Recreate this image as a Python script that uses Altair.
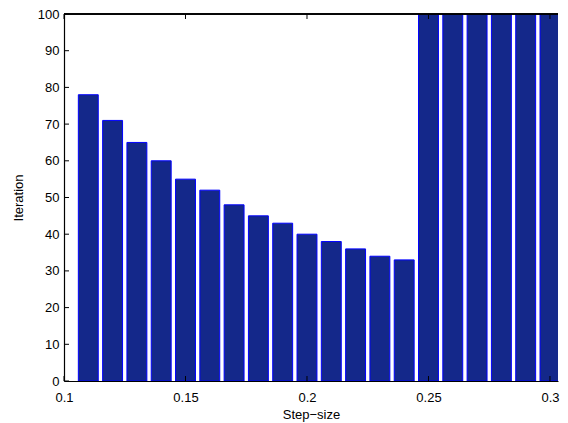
import altair as alt
import pandas as pd

steps = [0.11, 0.12, 0.13, 0.14, 0.15, 0.16, 0.17, 0.18, 0.19, 0.20,
         0.21, 0.22, 0.23, 0.24, 0.25, 0.26, 0.27, 0.28, 0.29, 0.30]
iterations = [78, 71, 65, 60, 55, 52, 48, 45, 43, 40,
              38, 36, 34, 33, 100, 100, 100, 100, 100, 100]
x_ticks = [0.1, 0.15, 0.2, 0.25, 0.3]
y_ticks = [0, 10, 20, 30, 40, 50, 60, 70, 80, 90, 100]

W = 494
H = 367
FONT = "Liberation Sans"

df = pd.DataFrame({"step": steps, "iter": iterations})
xdf = pd.DataFrame({"x": x_ticks})
ydf = pd.DataFrame({"y": y_ticks})

xscale = alt.Scale(domain=[0.1, 0.3033], nice=False, zero=False)
yscale = alt.Scale(domain=[0, 100], nice=False)

xaxis = alt.Axis(values=x_ticks, format="~g", title="Step\u2212size",
                 labelFlush=False, labelPadding=10, titlePadding=4)
yaxis = alt.Axis(values=y_ticks, format="d", title="Iteration",
                 labelPadding=5, titlePadding=12)

bars = alt.Chart(df).transform_calculate(
    x0="datum.step - 0.0041", x1="datum.step + 0.0041", base="0"
).mark_bar(fill="#14288a", stroke="#0000ff", strokeWidth=1, clip=True).encode(
    x=alt.X("x0:Q", scale=xscale, axis=xaxis),
    x2="x1:Q",
    y=alt.Y("iter:Q", scale=yscale, axis=yaxis),
    y2="base:Q",
)

ytick_marks = alt.Chart(ydf).mark_rule(color="black", strokeWidth=1).encode(
    y=alt.Y("y:Q", scale=yscale, axis=yaxis),
    x=alt.value(0), x2=alt.value(5),
)

xtick_bottom = alt.Chart(xdf).mark_rule(color="black", strokeWidth=1).encode(
    x=alt.X("x:Q", scale=xscale, axis=xaxis),
    y=alt.value(H), y2=alt.value(H - 5),
)

xtick_top = alt.Chart(xdf).mark_rule(color="black", strokeWidth=1).encode(
    x=alt.X("x:Q", scale=xscale, axis=xaxis),
    y=alt.value(0), y2=alt.value(5),
)

top_line = alt.Chart(xdf).mark_rule(color="black", strokeWidth=1.2).encode(
    x=alt.value(0), x2=alt.value(W), y=alt.value(0),
)

chart = alt.layer(bars, ytick_marks, xtick_bottom, xtick_top, top_line).properties(
    width=W, height=H,
    padding={"left": 4, "top": 0, "right": 0, "bottom": 2},
).configure_view(stroke=None).configure_axis(
    grid=False, ticks=False, domainColor="black", domainWidth=1.2,
    labelFont=FONT, labelFontSize=13, labelColor="black",
    titleFont=FONT, titleFontSize=13, titleFontWeight="normal", titleColor="black",
)

chart.save("out.html", embed_options={"renderer": "svg", "actions": False})
